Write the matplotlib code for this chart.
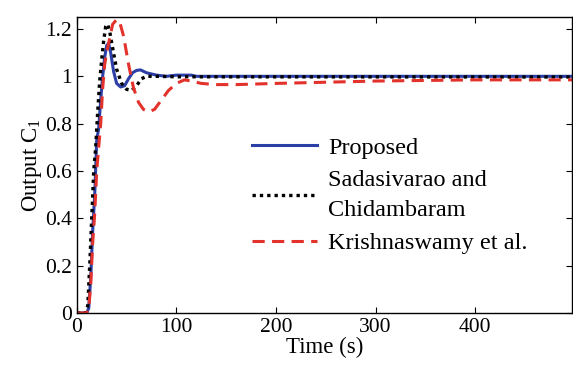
import numpy as np
import matplotlib
matplotlib.use('Agg')
import matplotlib.pyplot as plt

plt.rcParams['font.family'] = ['Liberation Serif', 'DejaVu Serif']
plt.rcParams['mathtext.fontset'] = 'custom'
plt.rcParams['mathtext.rm'] = 'Liberation Serif'
plt.rcParams['mathtext.it'] = 'Liberation Serif:italic'

# Proposed
t_prop = [0, 10, 12, 14, 16, 18, 20, 22, 24, 26, 28, 30, 32, 34, 37, 40, 44, 48, 52,
          56, 60, 64, 70, 80, 90, 100, 115, 120, 500]
y_prop = [0, 0, 0.02, 0.15, 0.35, 0.5, 0.73, 0.78, 0.9, 1.0, 1.08, 1.13, 1.14, 1.1,
          1.02, 0.97, 0.955, 0.96, 0.99, 1.015, 1.025, 1.027, 1.015, 1.005, 1.0,
          1.005, 1.005, 1.0, 1.0]

# Sadasivarao and Chidambaram
t_sad = [0, 9, 11, 13, 15, 17, 19, 21, 23, 25, 27, 29, 31, 33, 36, 40, 45, 50, 55,
         60, 65, 70, 80, 100, 500]
y_sad = [0, 0, 0.03, 0.2, 0.4, 0.6, 0.7, 0.85, 0.98, 1.07, 1.15, 1.21, 1.22, 1.19,
         1.12, 1.03, 0.97, 0.945, 0.94, 0.96, 0.99, 1.0, 1.0, 0.998, 0.997]

# Krishnaswamy et al.
t_kri = [0, 10, 12, 14, 16, 18, 20, 22, 24, 26, 28, 30, 33, 36, 40, 43, 47, 52, 57,
         62, 67, 72, 78, 85, 92, 100, 108, 115, 125, 140, 160, 200, 250, 300, 400, 500]
y_kri = [0, 0, 0.02, 0.12, 0.3, 0.42, 0.6, 0.7, 0.8, 0.95, 1.05, 1.1, 1.16, 1.22,
         1.24, 1.23, 1.17, 1.05, 0.95, 0.89, 0.86, 0.85, 0.86, 0.9, 0.94, 0.97,
         0.985, 0.98, 0.97, 0.965, 0.965, 0.97, 0.975, 0.98, 0.985, 0.985]

fig = plt.figure(figsize=(5.73, 3.73), dpi=100)
ax = fig.add_axes([0.134, 0.161, 0.864, 0.793])

ax.plot(t_prop, y_prop, color='#2b3fa6', lw=2.2, label='Proposed')
ax.plot(t_sad, y_sad, color='black', lw=2.4, ls=(0, (1, 1.2)), label='Sadasivarao and\nChidambaram')
ax.plot(t_kri, y_kri, color='#e3322b', lw=2.2, ls=(0, (4, 2.4)), label='Krishnaswamy et al.')

ax.set_xlim(0, 497)
ax.set_ylim(0, 1.25)
ax.set_xticks([0, 100, 200, 300, 400])
ax.set_yticks([0, 0.2, 0.4, 0.6, 0.8, 1.0, 1.2])
ax.set_yticklabels(['0', '0.2', '0.4', '0.6', '0.8', '1', '1.2'])
ax.tick_params(direction='in', top=True, right=True, labelsize=15.5, length=4, width=0.8)
for s in ax.spines.values():
    s.set_linewidth(1.0)

ax.set_xlabel('Time (s)', fontsize=16.5, labelpad=0)
ax.set_ylabel('Output C$_1$', fontsize=16.5, labelpad=1)

leg = ax.legend(loc='upper left', bbox_to_anchor=(0.309, 0.67), frameon=False, fontsize=17.5,
                handlelength=2.7, handletextpad=0.45, labelspacing=0.45)
for txt in leg.get_texts():
    txt.set_linespacing(1.6)

fig.savefig('out.png', dpi=100)
